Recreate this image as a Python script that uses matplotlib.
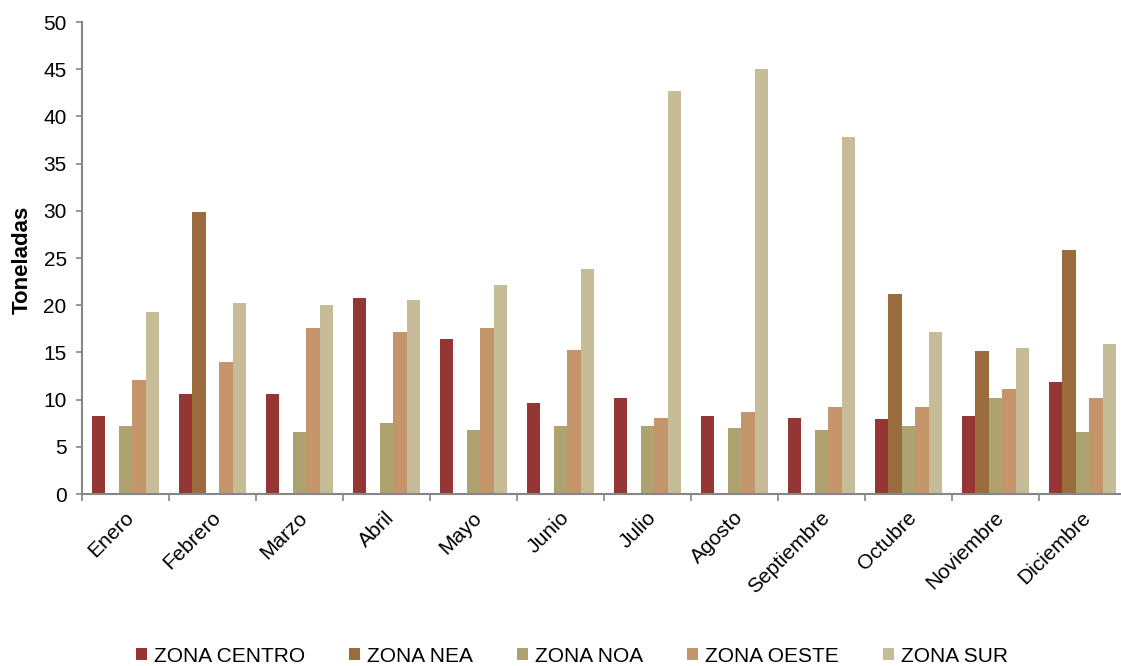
import matplotlib
matplotlib.use("Agg")
import matplotlib.pyplot as plt
import numpy as np

months = ["Enero", "Febrero", "Marzo", "Abril", "Mayo", "Junio", "Julio",
          "Agosto", "Septiembre", "Octubre", "Noviembre", "Diciembre"]
zona_centro = [8.3, 10.6, 10.6, 20.8, 16.4, 9.6, 10.2, 8.3, 8.1, 7.9, 8.3, 11.9]
zona_nea = [0, 29.9, 0, 0, 0, 0, 0, 0, 0, 21.2, 15.1, 25.9]
zona_noa = [7.2, 0, 6.6, 7.5, 6.8, 7.2, 7.2, 7.0, 6.8, 7.2, 10.2, 6.6]
zona_oeste = [12.1, 14.0, 17.6, 17.2, 17.6, 15.3, 8.1, 8.7, 9.2, 9.2, 11.1, 10.2]
zona_sur = [19.3, 20.2, 20.0, 20.6, 22.1, 23.8, 42.7, 45.0, 37.8, 17.2, 15.5, 15.9]
series_names = ["ZONA CENTRO", "ZONA NEA", "ZONA NOA", "ZONA OESTE", "ZONA SUR"]
series = [zona_centro, zona_nea, zona_noa, zona_oeste, zona_sur]
colors = ["#963634", "#9A6B3C", "#ADA270", "#C4956A", "#C6BD98"]
yticks = [0, 5, 10, 15, 20, 25, 30, 35, 40, 45, 50]

plt.rcParams['font.family'] = ['Liberation Sans', 'DejaVu Sans']

fig = plt.figure(figsize=(11.21, 6.66), dpi=100)
ax = fig.add_axes([82/1121, 172/666, 1044/1121, 472/666])

n = len(series)
w = 1 / (n + 1.5)
x = np.arange(len(months))
for i, (vals, name, c) in enumerate(zip(series, series_names, colors)):
    offs = (i - (n - 1) / 2) * w
    ax.bar(x + offs, vals, width=w, color=c, label=name, linewidth=0)

ax.set_xlim(-0.5, len(months) - 0.5)
ax.set_ylim(0, 50)
ax.set_yticks(yticks)
ax.tick_params(axis='y', labelsize=15, length=4, width=1.2, color='#868686', pad=7)

ax.set_xticks(x)
ax.set_xticklabels([])
ax.set_xticks(np.arange(len(months) + 1) - 0.5, minor=True)
ax.tick_params(axis='x', which='major', length=0)
ax.tick_params(axis='x', which='minor', length=5, width=1.2, color='#868686')
for xi, m in zip(x, months):
    ax.annotate(m, xy=(xi, 0), xycoords=('data', 'axes fraction'),
                xytext=(-1, -10), textcoords='offset points',
                rotation=45, ha='right', va='top', rotation_mode='anchor',
                fontsize=15)

for s in ['top', 'right']:
    ax.spines[s].set_visible(False)
for s in ['left', 'bottom']:
    ax.spines[s].set_color('#868686')
    ax.spines[s].set_linewidth(1.5)

fig.text(22/1121, 1 - 260/666, "Toneladas", rotation=90, ha='center', va='center',
         fontsize=16, fontweight='bold')

leg = fig.legend(loc='center', bbox_to_anchor=(572/1121, 1 - 656/666), ncol=5,
                 frameon=False, fontsize=15, handlelength=0.53, handleheight=0.5,
                 handletextpad=0.34, columnspacing=2.1, borderaxespad=0, borderpad=0)

fig.savefig("out.png", dpi=100)
